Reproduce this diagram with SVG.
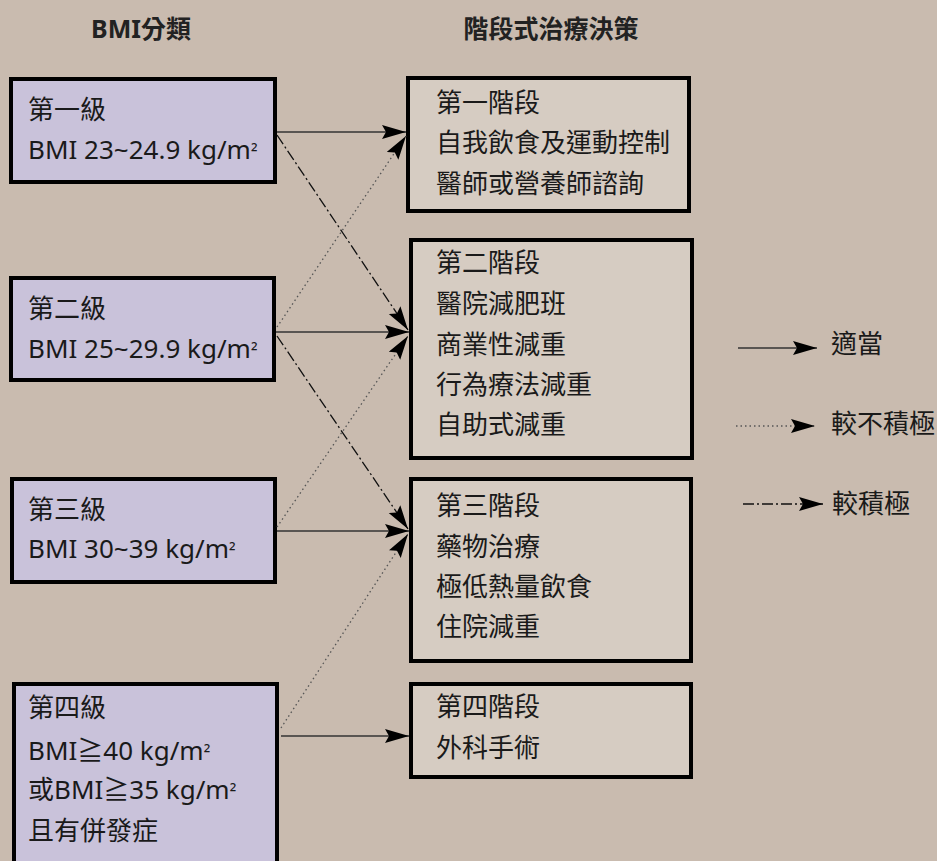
<svg xmlns="http://www.w3.org/2000/svg" width="937" height="861" viewBox="0 0 937 861">
<defs>
<style>
text{font-family:"Noto Sans","Noto Sans CJK TC",sans-serif;font-size:26px;fill:#1a1a1a}
.hd{font-weight:bold;font-size:25px;fill:#222;text-anchor:middle}
.sup{font-size:19px}
.lbox{fill:#C9C2DA;stroke:#000;stroke-width:4}
.rbox{fill:#D6CCC2;stroke:#000;stroke-width:4}
.solid{stroke:#333;stroke-width:1.5;fill:none;marker-end:url(#ah)}
.dot{stroke:#555;stroke-width:1.3;stroke-dasharray:1.5 3;fill:none;marker-end:url(#ah)}
.dd{stroke:#111;stroke-width:1.3;stroke-dasharray:11 3 2 3;fill:none;marker-end:url(#ah)}
</style>
<marker id="ah" markerUnits="userSpaceOnUse" markerWidth="26" markerHeight="16" refX="24" refY="7" orient="auto">
<path d="M0,0 L24,7 L0,14 L4,7 Z" fill="#000"/>
</marker>
</defs>
<rect width="937" height="861" fill="#C9BBAF"/>
<text class="hd" x="141" y="38">BMI分類</text>
<text class="hd" x="551" y="38">階段式治療決策</text>

<g id="bmi1"><rect class="lbox" x="11" y="79" width="264" height="103"/><text x="28" y="119">第一級</text><text x="28" y="159">BMI 23~24.9 kg/m<tspan class="sup">²</tspan></text></g>
<g id="bmi2"><rect class="lbox" x="11" y="278" width="263" height="102"/><text x="28" y="318">第二級</text><text x="28" y="358">BMI 25~29.9 kg/m<tspan class="sup">²</tspan></text></g>
<g id="bmi3"><rect class="lbox" x="12" y="479" width="263" height="103"/><text x="28" y="519">第三級</text><text x="28" y="558">BMI 30~39 kg/m<tspan class="sup">²</tspan></text></g>
<g id="bmi4"><rect class="lbox" x="14" y="684" width="263" height="200"/><text x="28" y="717">第四級</text><text x="28" y="760">BMI≧40 kg/m<tspan class="sup">²</tspan></text><text x="28" y="799">或BMI≧35 kg/m<tspan class="sup">²</tspan></text><text x="28" y="840">且有併發症</text></g>

<g id="stage1"><rect class="rbox" x="408" y="78" width="281" height="133"/><text x="436" y="112">第一階段</text><text x="436" y="152">自我飲食及運動控制</text><text x="436" y="193">醫師或營養師諮詢</text></g>
<g id="stage2"><rect class="rbox" x="411" y="240" width="281" height="218"/><text x="436" y="272">第二階段</text><text x="436" y="313">醫院減肥班</text><text x="436" y="354">商業性減重</text><text x="436" y="394">行為療法減重</text><text x="436" y="434">自助式減重</text></g>
<g id="stage3"><rect class="rbox" x="411" y="479" width="280" height="182"/><text x="436" y="515">第三階段</text><text x="436" y="556">藥物治療</text><text x="436" y="596">極低熱量飲食</text><text x="436" y="636">住院減重</text></g>
<g id="stage4"><rect class="rbox" x="411" y="684" width="280" height="93"/><text x="436" y="716">第四階段</text><text x="436" y="757">外科手術</text></g>

<g id="connectors">
<line class="solid" x1="277" y1="132" x2="406" y2="132"/>
<line class="solid" x1="276" y1="332" x2="409" y2="332"/>
<line class="solid" x1="277" y1="531" x2="409" y2="531"/>
<line class="solid" x1="281" y1="736" x2="409" y2="736"/>
<line class="dd" x1="277" y1="135" x2="408" y2="330"/>
<line class="dd" x1="277" y1="336" x2="408" y2="529"/>
<line class="dot" x1="277" y1="327" x2="406" y2="136"/>
<line class="dot" x1="277" y1="527" x2="408" y2="336"/>
<line class="dot" x1="281" y1="728" x2="408" y2="534"/>
</g>

<g id="legend">
<line class="solid" x1="738" y1="348" x2="817" y2="348"/>
<text x="831" y="353">適當</text>
<line class="dot" x1="736" y1="426" x2="815" y2="426"/>
<text x="831" y="433">較不積極</text>
<line class="dd" x1="743" y1="504" x2="823" y2="504"/>
<text x="832" y="513">較積極</text>
</g>
</svg>
